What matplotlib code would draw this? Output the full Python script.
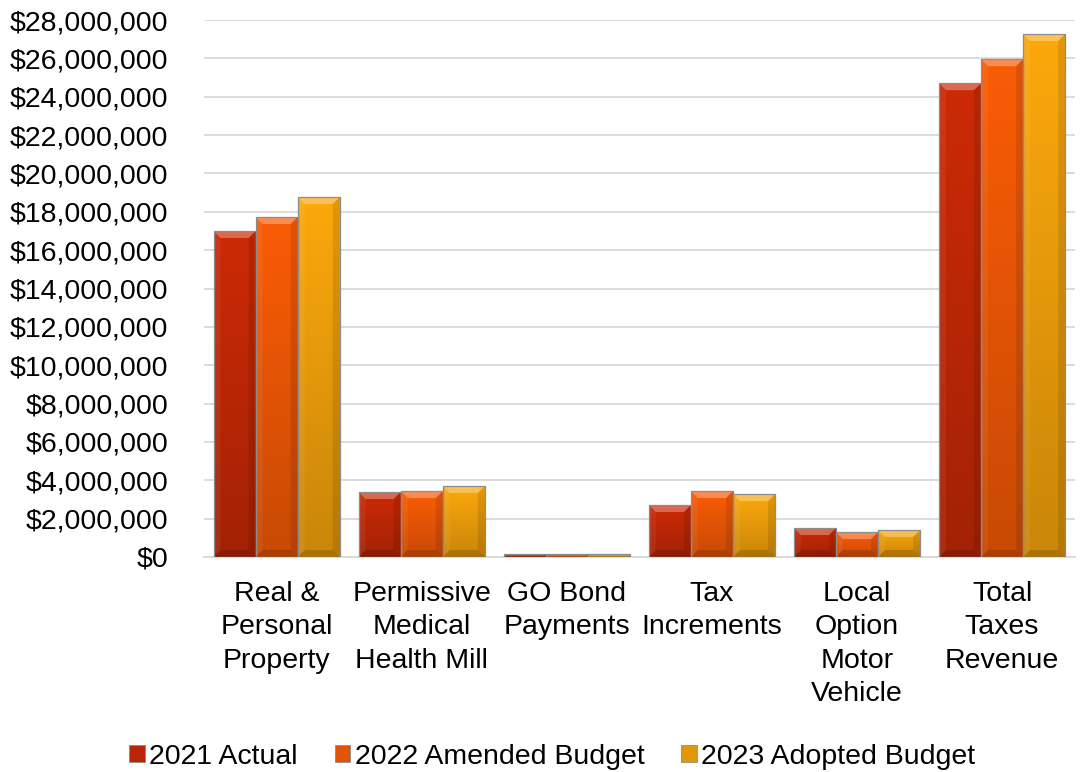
import numpy as np
import matplotlib.pyplot as plt
from matplotlib.patches import Polygon, Rectangle
from matplotlib.ticker import FuncFormatter, MultipleLocator
import matplotlib.colors as mcolors

plt.rcParams['font.family'] = ['Liberation Sans', 'DejaVu Sans']

categories = ['Real &\nPersonal\nProperty', 'Permissive\nMedical\nHealth Mill',
              'GO Bond\nPayments', 'Tax\nIncrements', 'Local\nOption\nMotor\nVehicle',
              'Total\nTaxes\nRevenue']
series = ['2021 Actual', '2022 Amended Budget', '2023 Adopted Budget']
actual_2021 = [17000000, 3390000, 150000, 2710000, 1510000, 24710000]
amended_2022 = [17730000, 3440000, 150000, 3440000, 1300000, 25960000]
adopted_2023 = [18770000, 3700000, 150000, 3280000, 1410000, 27270000]
colors = ['#CC2A06', '#FA5C06', '#FCA80C']

fig = plt.figure(figsize=(10.8, 7.72), dpi=100)
ax_l, ax_b, ax_w, ax_h = 0.189, 0.2785, 0.806, 0.6955
ax = fig.add_axes([ax_l, ax_b, ax_w, ax_h])

x = np.arange(len(categories))
w = 0.29
ymax = 28000000


def shade(c, f):
    r, g, b = mcolors.to_rgb(c)
    if f > 0:
        return (r + (1 - r) * f, g + (1 - g) * f, b + (1 - b) * f)
    return (r * (1 + f), g * (1 + f), b * (1 + f))


# pixel sizes -> data units, for the bevel on each bar
px_x = len(categories) / (ax_w * 1080)
px_y = ymax / (ax_h * 772)
bev = 7

for i, (vals, c) in enumerate(zip([actual_2021, amended_2022, adopted_2023], colors)):
    bars = ax.bar(x + (i - 1) * w, vals, w, color=c, edgecolor='none',
                  label=series[i], zorder=3)
    for b in bars:
        x0, y0 = b.get_x(), b.get_y()
        x1, y1 = x0 + b.get_width(), y0 + b.get_height()
        # each bar darkens toward its base
        t = np.linspace(0, 1, 64)
        img = np.array([shade(c, -0.2 * (1 - v)) for v in t]).reshape(-1, 1, 3)
        im = ax.imshow(img, extent=[x0, x1, y0, y1], origin='lower',
                       aspect='auto', zorder=3.5, interpolation='bilinear')
        im.set_clip_path(b)
        dy = min(bev * px_y, (y1 - y0) / 2)
        dxs = min(bev * px_x, dy / px_y * px_x)
        ct, cb = c, shade(c, -0.2)
        top = [(x0, y1), (x1, y1), (x1 - dxs, y1 - dy), (x0 + dxs, y1 - dy)]
        bot = [(x0, y0), (x1, y0), (x1 - dxs, y0 + dy), (x0 + dxs, y0 + dy)]
        left = [(x0, y0), (x0, y1), (x0 + dxs, y1 - dy), (x0 + dxs, y0 + dy)]
        right = [(x1, y0), (x1, y1), (x1 - dxs, y1 - dy), (x1 - dxs, y0 + dy)]
        for pts, col, a in [(left, '#ffffff', 0.06), (right, '#000000', 0.1),
                            (top, '#ffffff', 0.3), (bot, '#000000', 0.15)]:
            ax.add_patch(Polygon(pts, closed=True, facecolor=col, alpha=a,
                                 edgecolor='none', zorder=4))
        ax.add_patch(Rectangle((x0, y0), x1 - x0, y1 - y0, fill=False,
                               edgecolor='#8c8c8c', linewidth=0.9, zorder=5))

ax.set_xlim(-0.5, len(categories) - 0.5)
ax.set_ylim(0, ymax)
ax.yaxis.set_major_locator(MultipleLocator(2000000))
ax.yaxis.set_major_formatter(FuncFormatter(lambda v, p: '${:,.0f}'.format(v)))
ax.grid(axis='y', color='#D9D9D9', linewidth=1.3, zorder=0)
ax.set_axisbelow(True)
for s in ['top', 'right', 'left']:
    ax.spines[s].set_visible(False)
ax.spines['bottom'].set_color('#D9D9D9')
ax.spines['bottom'].set_linewidth(1.3)
ax.tick_params(axis='both', length=0, labelsize=20.5, colors='black')
ax.tick_params(axis='y', pad=26)
ax.tick_params(axis='x', pad=17)
ax.set_xticks(x)
ax.set_xticklabels(categories, linespacing=1.38)

leg = ax.legend(loc='center', bbox_to_anchor=(0.40, -0.372), ncol=3, frameon=False,
                fontsize=20.5, handlelength=0.55, handleheight=0.55, handletextpad=0.15,
                columnspacing=1.3)
for h, c in zip(leg.legend_handles, colors):
    h.set_facecolor(shade(c, -0.1))
    h.set_edgecolor('#8c8c8c')
    h.set_linewidth(0.6)

fig.savefig('out.png', dpi=100)
